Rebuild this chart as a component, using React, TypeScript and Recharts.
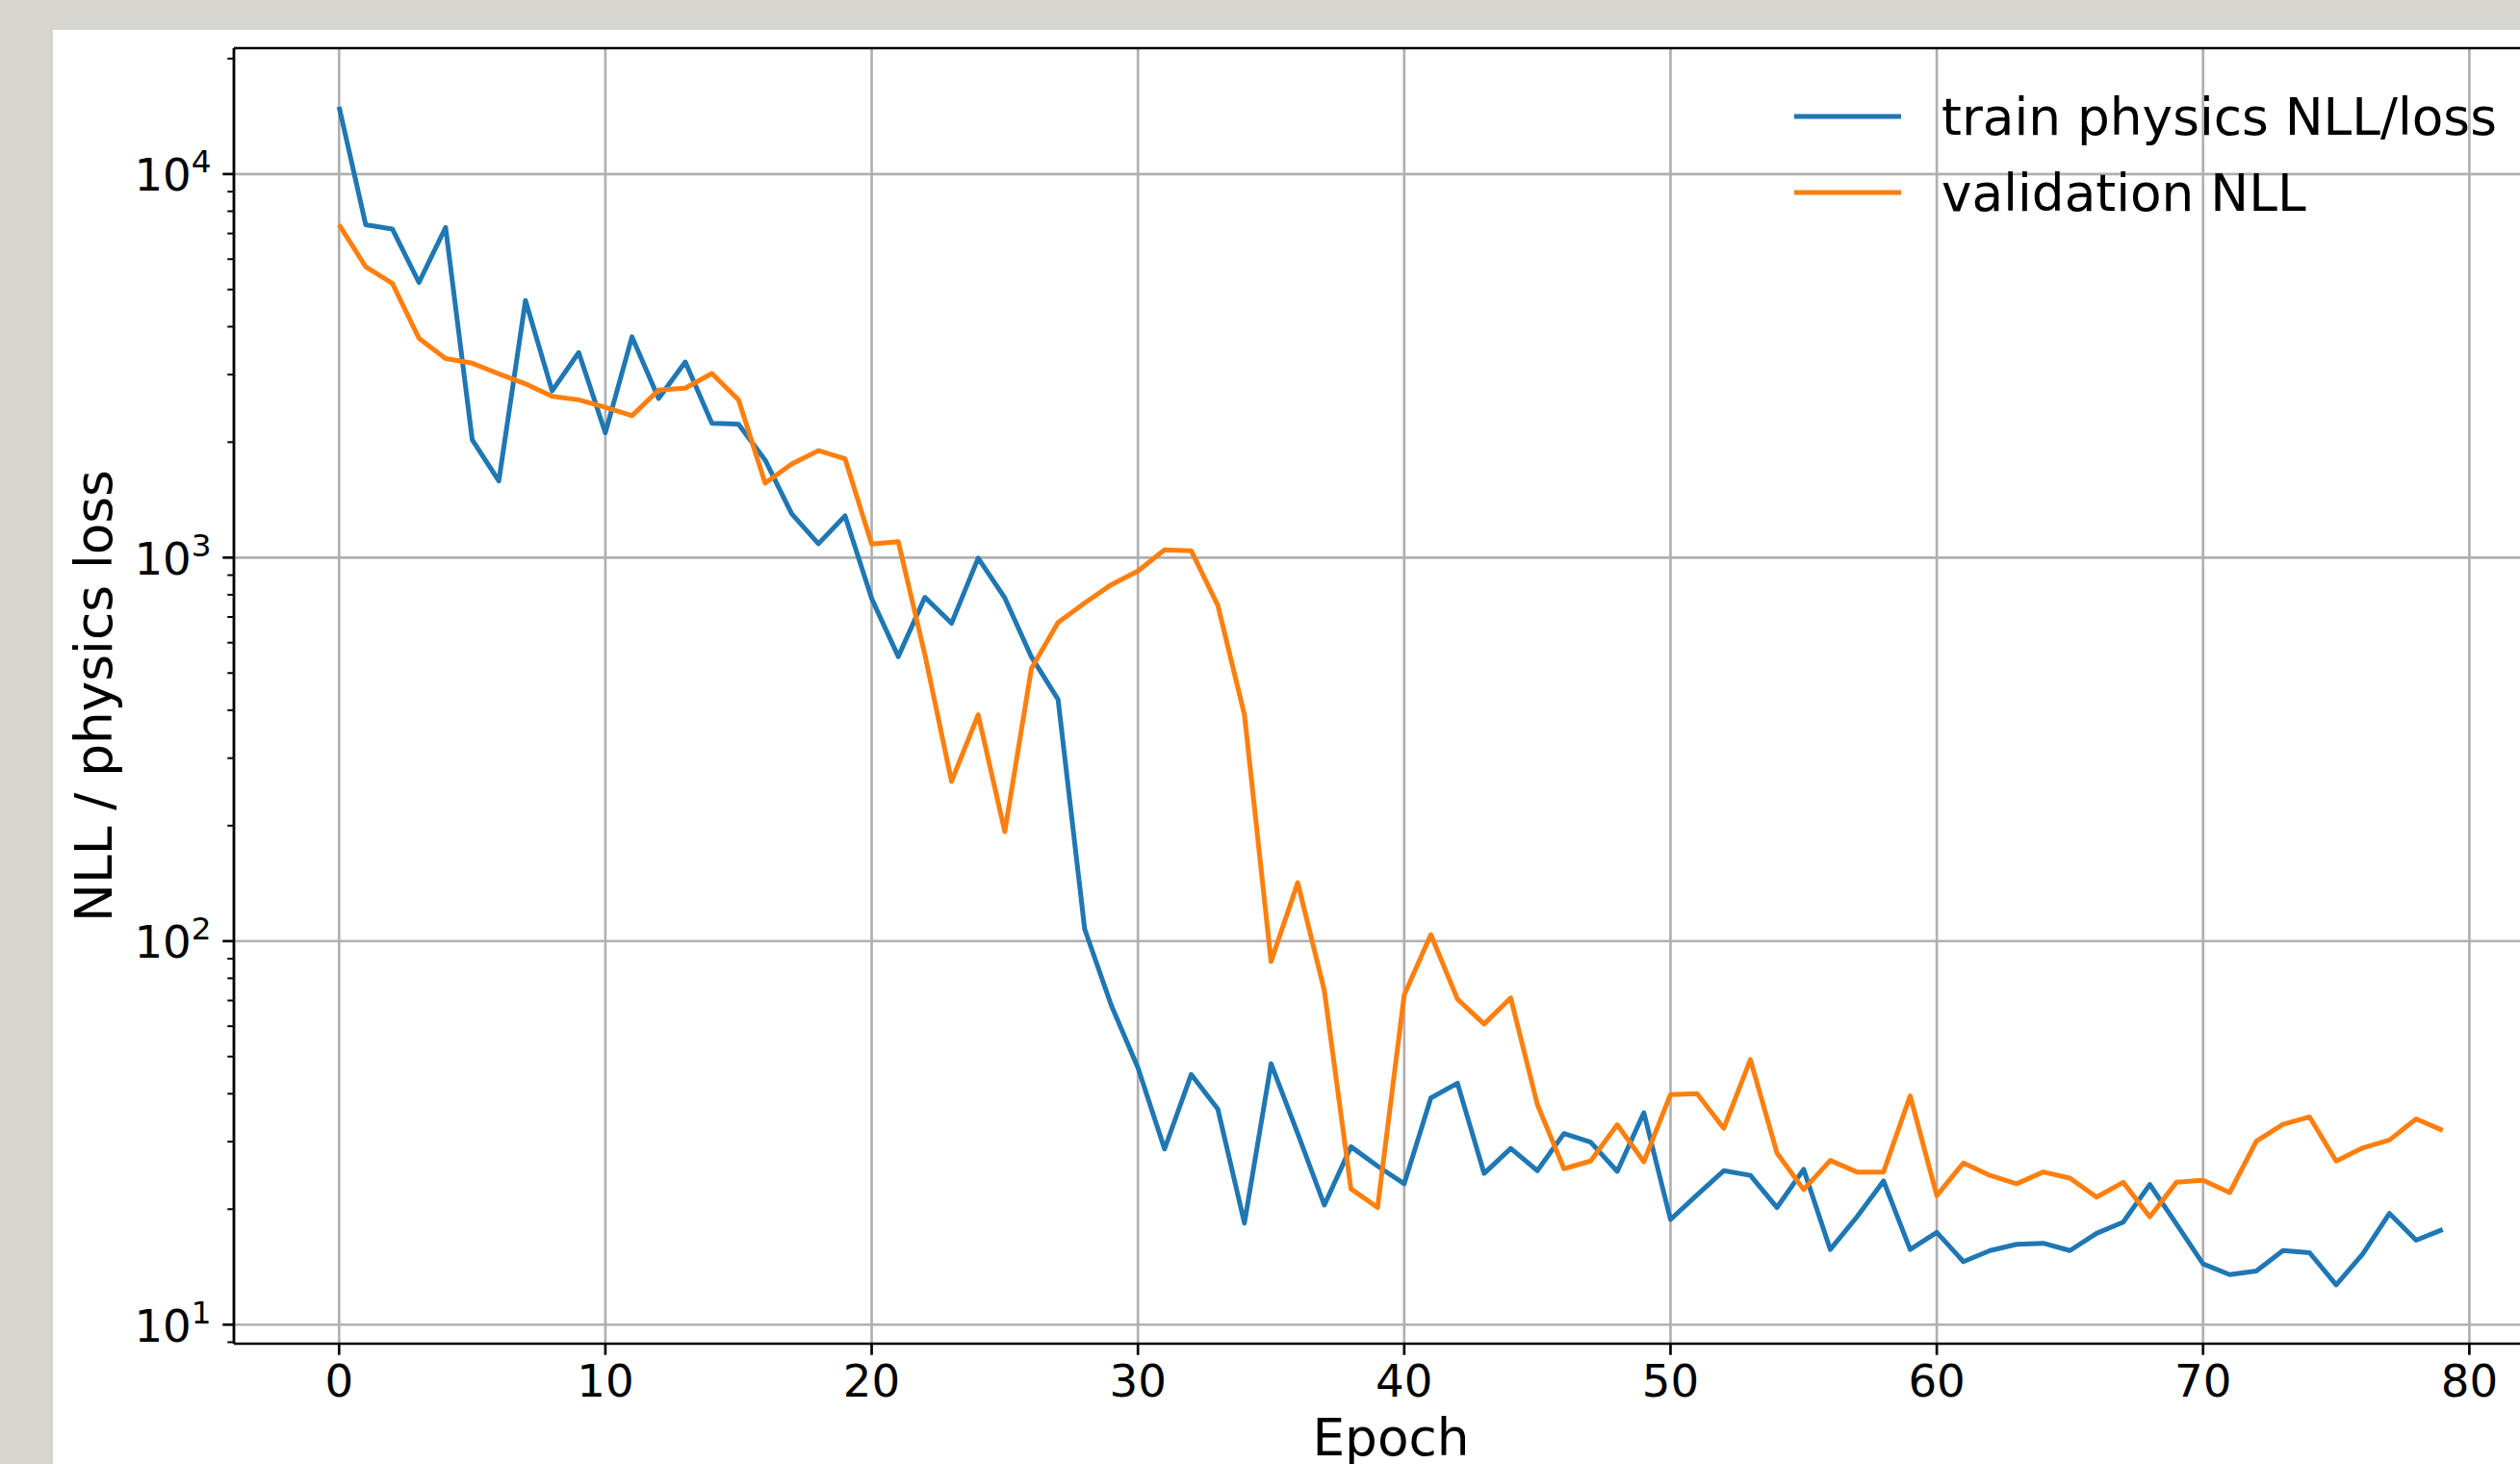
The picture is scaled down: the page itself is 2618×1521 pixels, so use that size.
import React from 'react';
import { LineChart, Line, XAxis, YAxis, CartesianGrid, ReferenceLine, Legend, Label } from 'recharts';

// per-epoch values
const trainLoss = [
  14970, 7380, 7190, 5215, 7260, 2030, 1584, 4680, 2720, 3425,
  2115, 3765, 2600, 3236, 2240, 2228, 1796, 1300, 1087, 1285,
  782, 552, 788, 674, 997, 785, 551, 427, 107.5, 68,
  46.8, 28.7, 44.9, 36.5, 18.4, 47.9, 31.5, 20.5, 29.1, 25.9,
  23.3, 39.0, 42.6, 24.8, 28.8, 25.2, 31.5, 29.9, 25.1, 35.7,
  18.8, 21.8, 25.2, 24.5, 20.2, 25.4, 15.7, 19.1, 23.7, 15.7,
  17.4, 14.6, 15.6, 16.2, 16.3, 15.6, 17.3, 18.5, 23.2, 18.3,
  14.4, 13.5, 13.8, 15.6, 15.4, 12.7, 15.3, 19.5, 16.6, 17.7,
];

const valNll = [
  7380, 5730, 5190, 3730, 3305, 3213, 3013, 2838, 2633, 2579,
  2467, 2344, 2735, 2766, 3020, 2579, 1563, 1755, 1901, 1811,
  1085, 1100, 558, 261, 389, 193, 514, 677, 761, 850,
  923, 1048, 1042, 751, 389, 88.5, 142, 74.3, 22.6, 20.2,
  72.4, 104, 70.6, 60.8, 71.1, 37.5, 25.5, 26.7, 33.2, 26.6,
  39.8, 40.0, 32.5, 49.1, 28.0, 22.5, 26.8, 25.0, 25.0, 39.5,
  21.7, 26.4, 24.5, 23.3, 25.0, 24.1, 21.5, 23.5, 19.1, 23.5,
  23.8, 22.1, 30.1, 33.3, 34.8, 26.7, 28.9, 30.3, 34.4, 32.1,
];

const xTicks = [0, 10, 20, 30, 40, 50, 60, 70, 80];
const yMajorTicks = [10, 100, 1000, 10000];
const yMinorTicks = [
  9,
  20, 30, 40, 50, 60, 70, 80, 90,
  200, 300, 400, 500, 600, 700, 800, 900,
  2000, 3000, 4000, 5000, 6000, 7000, 8000, 9000,
  20000,
];
const xDomain = [-3.95, 82.95];
const yDomain = [8.92, 21300];

const data = trainLoss.map((v, i) => ({ epoch: i, train: v, val: valNll[i] }));

const FONT = '"DejaVu Sans", sans-serif';
const TICK_FS = 46.7;
const LABEL_FS = 53.3;
const MAJOR_LEN = 11.7;
const MINOR_LEN = 6.7;
const PAD = 11.7;
const GRID = '#b0b0b0';

function XTick(props: any) {
  const { x, y, payload } = props;
  return (
    <g>
      <line x1={x} x2={x} y1={y} y2={y + MAJOR_LEN} stroke="#000" strokeWidth={2.67} />
      <text x={x} y={y + 55} textAnchor="middle" fontSize={TICK_FS} fontFamily={FONT} fill="#000">
        {payload.value}
      </text>
    </g>
  );
}

function YTick(props: any) {
  const { x, y, payload } = props;
  const v = payload.value;
  const major = yMajorTicks.includes(v);
  const exp = Math.round(Math.log10(v));
  return (
    <g>
      <line
        x1={x - (major ? MAJOR_LEN : MINOR_LEN)}
        x2={x}
        y1={y}
        y2={y}
        stroke="#000"
        strokeWidth={major ? 2.67 : 2}
      />
      {major && (
        <text x={x - MAJOR_LEN - PAD} y={y + 17.5} textAnchor="end" fontSize={TICK_FS} fontFamily={FONT} fill="#000">
          <tspan>10</tspan>
          <tspan dy={-19} fontSize={32.7}>{exp}</tspan>
        </text>
      )}
    </g>
  );
}

function XLabel(props: any) {
  const vb = props.viewBox;
  return (
    <text x={vb.x + vb.width / 2} y={vb.y + 116} textAnchor="middle" fontSize={LABEL_FS} fontFamily={FONT} fill="#000">
      Epoch
    </text>
  );
}

function YLabel(props: any) {
  const vb = props.viewBox;
  const cx = vb.x + vb.width - 127;
  const cy = vb.y + vb.height / 2;
  return (
    <text
      x={cx}
      y={cy}
      transform={`rotate(-90, ${cx}, ${cy})`}
      textAnchor="middle"
      fontSize={LABEL_FS}
      fontFamily={FONT}
      fill="#000"
    >
      NLL / physics loss
    </text>
  );
}

function LegendBox(props: any) {
  const items = props.payload || [];
  return (
    <svg width={760} height={160} style={{ overflow: 'visible' }}>
      {items.map((it: any, i: number) => (
        <g key={it.value}>
          <line x1={14} x2={125} y1={36 + i * 79} y2={36 + i * 79} stroke={it.color} strokeWidth={5} />
          <text x={167} y={55 + i * 79} fontSize={LABEL_FS} fontFamily={FONT} fill="#000">
            {it.value}
          </text>
        </g>
      ))}
    </svg>
  );
}

export default function App() {
  return (
    <div
      style={{
        position: 'fixed',
        left: 0,
        top: 0,
        width: 2618,
        height: 1521,
        overflow: 'hidden',
        background: '#d6d5d0',
      }}
    >
      <div style={{ position: 'absolute', left: 55, top: 31, right: 0, bottom: 0, background: '#fff' }} />
      <div style={{ position: 'absolute', left: 0, top: 0 }}>
        <LineChart width={2670} height={1521} data={data} margin={{ top: 50, right: 23, bottom: 0, left: 0 }}>
          <CartesianGrid horizontal={false} stroke={GRID} strokeWidth={2.67} />
          {yMajorTicks.map((v) => (
            <ReferenceLine key={v} y={v} stroke={GRID} strokeWidth={2.67} />
          ))}
          <XAxis
            dataKey="epoch"
            type="number"
            domain={xDomain}
            ticks={xTicks}
            interval={0}
            allowDataOverflow
            height={125}
            tickSize={0}
            tickMargin={0}
            tickLine={false}
            axisLine={{ stroke: '#000', strokeWidth: 2.67 }}
            tick={(p: any) => <XTick {...p} />}
          >
            <Label content={(p: any) => <XLabel {...p} />} />
          </XAxis>
          <YAxis
            type="number"
            scale="log"
            domain={yDomain}
            ticks={[...yMinorTicks, ...yMajorTicks].sort((a, b) => a - b)}
            interval={0}
            allowDataOverflow
            width={243}
            tickSize={0}
            tickMargin={0}
            tickLine={false}
            axisLine={{ stroke: '#000', strokeWidth: 2.67 }}
            tick={(p: any) => <YTick {...p} />}
          >
            <Label content={(p: any) => <YLabel {...p} />} />
          </YAxis>
          <ReferenceLine y={yDomain[1]} stroke="#000" strokeWidth={2.67} />
          <Legend
            layout="horizontal"
            verticalAlign="middle"
            align="center"
            wrapperStyle={{ left: 1850, top: 85, width: 760, height: 160 }}
            content={(p: any) => <LegendBox {...p} />}
          />
          <Line
            name="train physics NLL/loss"
            dataKey="train"
            type="linear"
            stroke="#1f77b4"
            strokeWidth={5}
            strokeLinejoin="round"
            dot={false}
            isAnimationActive={false}
          />
          <Line
            name="validation NLL"
            dataKey="val"
            type="linear"
            stroke="#ff7f0e"
            strokeWidth={5}
            strokeLinejoin="round"
            dot={false}
            isAnimationActive={false}
          />
        </LineChart>
      </div>
    </div>
  );
}
